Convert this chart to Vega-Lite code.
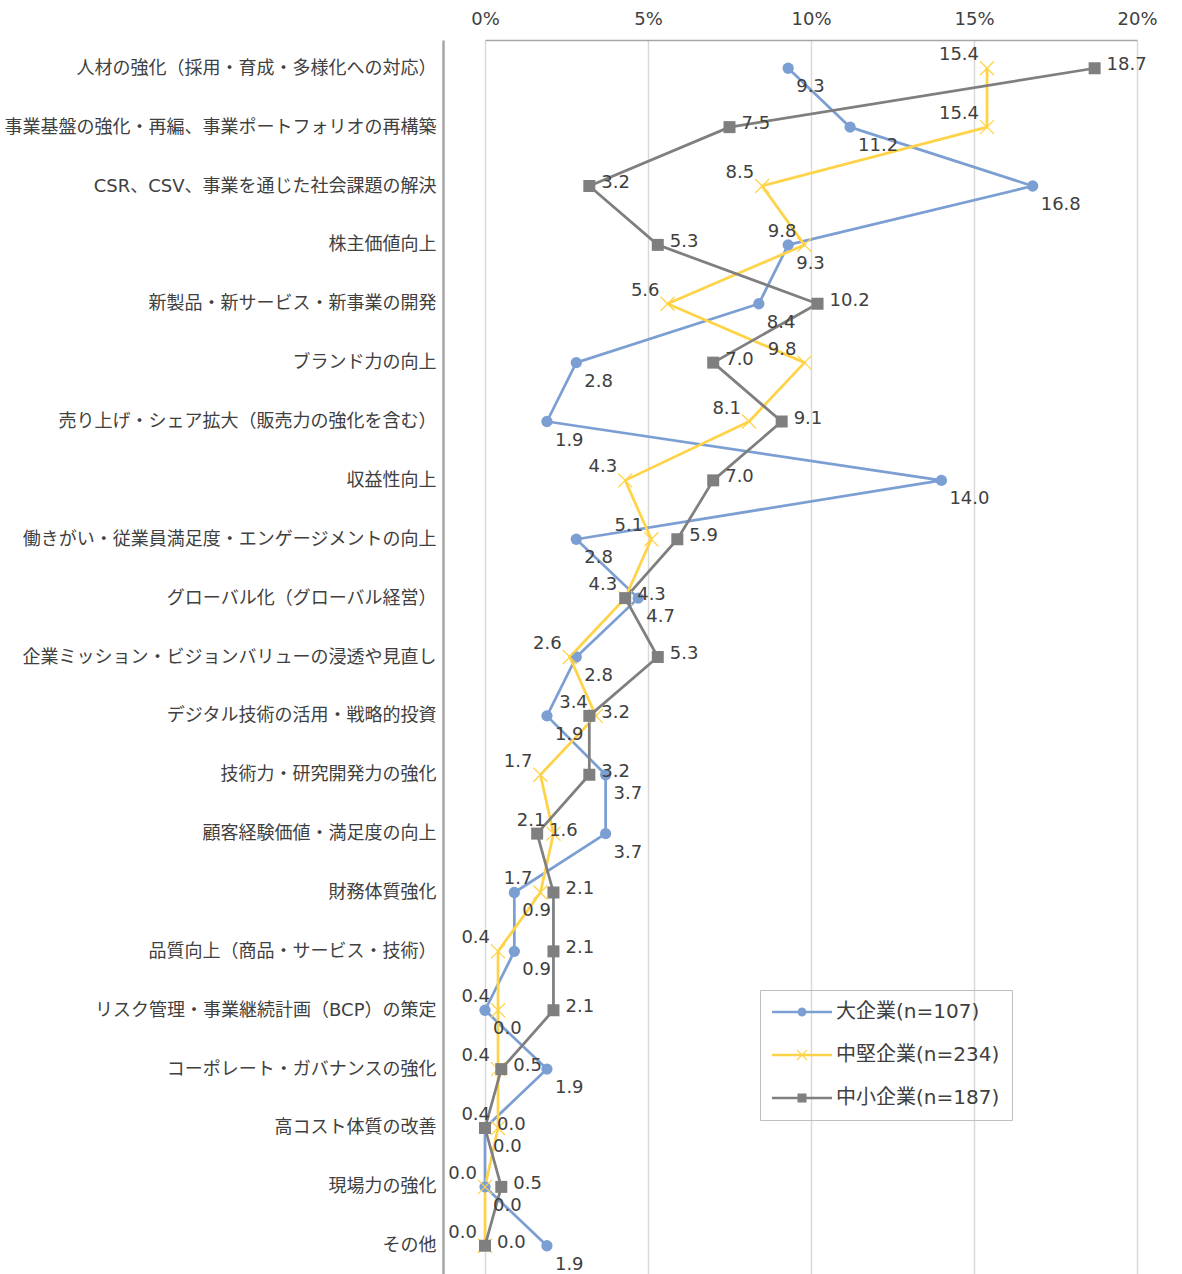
{
  "$schema": "https://vega.github.io/schema/vega-lite/v6.json",
  "width": 652,
  "height": 1234,
  "autosize": {"type": "none"},
  "padding": {"left": 485, "top": 40, "right": 45, "bottom": 0},
  "background": "white",
  "config": {"view": {"stroke": null}, "font": "DejaVu Sans, Noto Sans CJK JP"},
  "data": {"values": [
    {"i": 1, "c": "人材の強化（採用・育成・多様化への対応）", "s": "大企業(n=107)", "v": 9.3},
    {"i": 1, "c": "人材の強化（採用・育成・多様化への対応）", "s": "中堅企業(n=234)", "v": 15.4},
    {"i": 1, "c": "人材の強化（採用・育成・多様化への対応）", "s": "中小企業(n=187)", "v": 18.7},
    {"i": 2, "c": "事業基盤の強化・再編、事業ポートフォリオの再構築", "s": "大企業(n=107)", "v": 11.2},
    {"i": 2, "c": "事業基盤の強化・再編、事業ポートフォリオの再構築", "s": "中堅企業(n=234)", "v": 15.4},
    {"i": 2, "c": "事業基盤の強化・再編、事業ポートフォリオの再構築", "s": "中小企業(n=187)", "v": 7.5},
    {"i": 3, "c": "CSR、CSV、事業を通じた社会課題の解決", "s": "大企業(n=107)", "v": 16.8},
    {"i": 3, "c": "CSR、CSV、事業を通じた社会課題の解決", "s": "中堅企業(n=234)", "v": 8.5},
    {"i": 3, "c": "CSR、CSV、事業を通じた社会課題の解決", "s": "中小企業(n=187)", "v": 3.2},
    {"i": 4, "c": "株主価値向上", "s": "大企業(n=107)", "v": 9.3},
    {"i": 4, "c": "株主価値向上", "s": "中堅企業(n=234)", "v": 9.8},
    {"i": 4, "c": "株主価値向上", "s": "中小企業(n=187)", "v": 5.3},
    {"i": 5, "c": "新製品・新サービス・新事業の開発", "s": "大企業(n=107)", "v": 8.4},
    {"i": 5, "c": "新製品・新サービス・新事業の開発", "s": "中堅企業(n=234)", "v": 5.6},
    {"i": 5, "c": "新製品・新サービス・新事業の開発", "s": "中小企業(n=187)", "v": 10.2},
    {"i": 6, "c": "ブランド力の向上", "s": "大企業(n=107)", "v": 2.8},
    {"i": 6, "c": "ブランド力の向上", "s": "中堅企業(n=234)", "v": 9.8},
    {"i": 6, "c": "ブランド力の向上", "s": "中小企業(n=187)", "v": 7.0},
    {"i": 7, "c": "売り上げ・シェア拡大（販売力の強化を含む）", "s": "大企業(n=107)", "v": 1.9},
    {"i": 7, "c": "売り上げ・シェア拡大（販売力の強化を含む）", "s": "中堅企業(n=234)", "v": 8.1},
    {"i": 7, "c": "売り上げ・シェア拡大（販売力の強化を含む）", "s": "中小企業(n=187)", "v": 9.1},
    {"i": 8, "c": "収益性向上", "s": "大企業(n=107)", "v": 14.0},
    {"i": 8, "c": "収益性向上", "s": "中堅企業(n=234)", "v": 4.3},
    {"i": 8, "c": "収益性向上", "s": "中小企業(n=187)", "v": 7.0},
    {"i": 9, "c": "働きがい・従業員満足度・エンゲージメントの向上", "s": "大企業(n=107)", "v": 2.8},
    {"i": 9, "c": "働きがい・従業員満足度・エンゲージメントの向上", "s": "中堅企業(n=234)", "v": 5.1},
    {"i": 9, "c": "働きがい・従業員満足度・エンゲージメントの向上", "s": "中小企業(n=187)", "v": 5.9},
    {"i": 10, "c": "グローバル化（グローバル経営）", "s": "大企業(n=107)", "v": 4.7},
    {"i": 10, "c": "グローバル化（グローバル経営）", "s": "中堅企業(n=234)", "v": 4.3},
    {"i": 10, "c": "グローバル化（グローバル経営）", "s": "中小企業(n=187)", "v": 4.3},
    {"i": 11, "c": "企業ミッション・ビジョンバリューの浸透や見直し", "s": "大企業(n=107)", "v": 2.8},
    {"i": 11, "c": "企業ミッション・ビジョンバリューの浸透や見直し", "s": "中堅企業(n=234)", "v": 2.6},
    {"i": 11, "c": "企業ミッション・ビジョンバリューの浸透や見直し", "s": "中小企業(n=187)", "v": 5.3},
    {"i": 12, "c": "デジタル技術の活用・戦略的投資", "s": "大企業(n=107)", "v": 1.9},
    {"i": 12, "c": "デジタル技術の活用・戦略的投資", "s": "中堅企業(n=234)", "v": 3.4},
    {"i": 12, "c": "デジタル技術の活用・戦略的投資", "s": "中小企業(n=187)", "v": 3.2},
    {"i": 13, "c": "技術力・研究開発力の強化", "s": "大企業(n=107)", "v": 3.7},
    {"i": 13, "c": "技術力・研究開発力の強化", "s": "中堅企業(n=234)", "v": 1.7},
    {"i": 13, "c": "技術力・研究開発力の強化", "s": "中小企業(n=187)", "v": 3.2},
    {"i": 14, "c": "顧客経験価値・満足度の向上", "s": "大企業(n=107)", "v": 3.7},
    {"i": 14, "c": "顧客経験価値・満足度の向上", "s": "中堅企業(n=234)", "v": 2.1},
    {"i": 14, "c": "顧客経験価値・満足度の向上", "s": "中小企業(n=187)", "v": 1.6},
    {"i": 15, "c": "財務体質強化", "s": "大企業(n=107)", "v": 0.9},
    {"i": 15, "c": "財務体質強化", "s": "中堅企業(n=234)", "v": 1.7},
    {"i": 15, "c": "財務体質強化", "s": "中小企業(n=187)", "v": 2.1},
    {"i": 16, "c": "品質向上（商品・サービス・技術）", "s": "大企業(n=107)", "v": 0.9},
    {"i": 16, "c": "品質向上（商品・サービス・技術）", "s": "中堅企業(n=234)", "v": 0.4},
    {"i": 16, "c": "品質向上（商品・サービス・技術）", "s": "中小企業(n=187)", "v": 2.1},
    {"i": 17, "c": "リスク管理・事業継続計画（BCP）の策定", "s": "大企業(n=107)", "v": 0.0},
    {"i": 17, "c": "リスク管理・事業継続計画（BCP）の策定", "s": "中堅企業(n=234)", "v": 0.4},
    {"i": 17, "c": "リスク管理・事業継続計画（BCP）の策定", "s": "中小企業(n=187)", "v": 2.1},
    {"i": 18, "c": "コーポレート・ガバナンスの強化", "s": "大企業(n=107)", "v": 1.9},
    {"i": 18, "c": "コーポレート・ガバナンスの強化", "s": "中堅企業(n=234)", "v": 0.4},
    {"i": 18, "c": "コーポレート・ガバナンスの強化", "s": "中小企業(n=187)", "v": 0.5},
    {"i": 19, "c": "高コスト体質の改善", "s": "大企業(n=107)", "v": 0.0},
    {"i": 19, "c": "高コスト体質の改善", "s": "中堅企業(n=234)", "v": 0.4},
    {"i": 19, "c": "高コスト体質の改善", "s": "中小企業(n=187)", "v": 0.0},
    {"i": 20, "c": "現場力の強化", "s": "大企業(n=107)", "v": 0.0},
    {"i": 20, "c": "現場力の強化", "s": "中堅企業(n=234)", "v": 0.0},
    {"i": 20, "c": "現場力の強化", "s": "中小企業(n=187)", "v": 0.5},
    {"i": 21, "c": "その他", "s": "大企業(n=107)", "v": 1.9},
    {"i": 21, "c": "その他", "s": "中堅企業(n=234)", "v": 0.0},
    {"i": 21, "c": "その他", "s": "中小企業(n=187)", "v": 0.0}
  ]},
  "encoding": {
    "y": {
      "field": "c", "type": "nominal",
      "sort": {"field": "i", "op": "min"},
      "scale": {"type": "point", "padding": 0.48},
      "axis": {
        "title": null, "orient": "left", "offset": 42, "ticks": false, "tickSize": 0,
        "labelPadding": 7, "domainColor": "#a6a6a6", "domainWidth": 2.5,
        "labelFontSize": 18, "labelColor": "#404040", "labelFont": "DejaVu Sans, Noto Sans CJK JP",
        "labelLimit": 600, "grid": false
      }
    },
    "x": {
      "field": "v", "type": "quantitative",
      "scale": {"domain": [0, 20], "nice": false},
      "axis": {
        "title": null, "orient": "top", "values": [0, 5, 10, 15, 20],
        "labelExpr": "datum.value + '%'", "ticks": false, "tickSize": 0, "labelPadding": 12,
        "domainColor": "#a6a6a6", "domainWidth": 1.5,
        "grid": true, "gridColor": "#d9d9d9", "gridWidth": 1.5,
        "labelFontSize": 18, "labelColor": "#404040", "labelFont": "DejaVu Sans", "labelFlush": false
      }
    }
  },
  "layer": [
    {
      "mark": {"type": "point", "filled": true, "size": 0, "opacity": 1, "strokeWidth": 0},
      "encoding": {
        "color": {"field": "s", "type": "nominal",
          "scale": {"domain": ["大企業(n=107)", "中堅企業(n=234)", "中小企業(n=187)"], "range": ["#7C9FD3", "#FFD347", "#7F7F7F"]},
          "legend": {
            "orient": "none", "legendX": 275, "legendY": 950, "title": null,
            "labelFontSize": 20, "labelColor": "#404040", "labelFont": "DejaVu Sans, Noto Sans CJK JP",
            "symbolSize": 400, "symbolStrokeWidth": 0, "symbolOpacity": 1,
            "labelOffset": 44, "rowPadding": 23, "padding": 12,
            "strokeColor": "#bfbfbf", "labelLimit": 400
          }},
        "shape": {"field": "s", "type": "nominal",
          "scale": {"domain": ["大企業(n=107)", "中堅企業(n=234)", "中小企業(n=187)"],
            "range": [
              "M-1,-0.135H5V0.135H-1Z M2.45,0L2.39,0.225L2.225,0.39L2,0.45L1.775,0.39L1.61,0.225L1.55,0L1.61,-0.225L1.775,-0.39L2,-0.45L2.225,-0.39L2.39,-0.225Z",
              "M-1,-0.135H5V0.135H-1Z M1.542,-0.542L2.542,0.458L2.458,0.542L1.458,-0.458Z M2.458,-0.542L2.542,-0.458L1.542,0.542L1.458,0.458Z",
              "M-1,-0.135H5V0.135H-1Z M1.55,-0.45H2.45V0.45H1.55Z"
            ]}}
      }
    },
    {
      "mark": {"type": "line", "strokeWidth": 2.75, "strokeJoin": "round"},
      "encoding": {
        "stroke": {"field": "s", "type": "nominal",
          "scale": {"domain": ["大企業(n=107)", "中堅企業(n=234)", "中小企業(n=187)"], "range": ["#7C9FD3", "#FFD347", "#7F7F7F"]},
          "legend": null},
        "order": {"field": "i", "type": "quantitative"}
      }
    },
    {
      "transform": [{"filter": "datum.s === '大企業(n=107)'"}],
      "mark": {"type": "circle", "size": 127, "color": "#7C9FD3", "opacity": 1}
    },
    {
      "transform": [{"filter": "datum.s === '中堅企業(n=234)'"}],
      "mark": {"type": "point", "shape": "M-1,-1L1,1M1,-1L-1,1", "size": 196, "filled": false, "stroke": "#FFD347", "strokeWidth": 1.3, "opacity": 1}
    },
    {
      "transform": [{"filter": "datum.s === '中小企業(n=187)'"}],
      "mark": {"type": "square", "size": 144, "color": "#7F7F7F", "opacity": 1}
    },
    {
      "transform": [{"filter": "datum.s === '大企業(n=107)'"}],
      "mark": {"type": "text", "align": "left", "baseline": "middle", "dx": 8, "dy": 19, "fontSize": 18, "font": "DejaVu Sans", "color": "#404040"},
      "encoding": {"text": {"field": "v", "type": "quantitative", "format": ".1f"}}
    },
    {
      "transform": [{"filter": "datum.s === '中堅企業(n=234)'"}],
      "mark": {"type": "text", "align": "right", "baseline": "middle", "dx": -8, "dy": -13, "fontSize": 18, "font": "DejaVu Sans", "color": "#404040"},
      "encoding": {"text": {"field": "v", "type": "quantitative", "format": ".1f"}}
    },
    {
      "transform": [{"filter": "datum.s === '中小企業(n=187)'"}],
      "mark": {"type": "text", "align": "left", "baseline": "middle", "dx": 12, "dy": -3, "fontSize": 18, "font": "DejaVu Sans", "color": "#404040"},
      "encoding": {"text": {"field": "v", "type": "quantitative", "format": ".1f"}}
    }
  ]
}
